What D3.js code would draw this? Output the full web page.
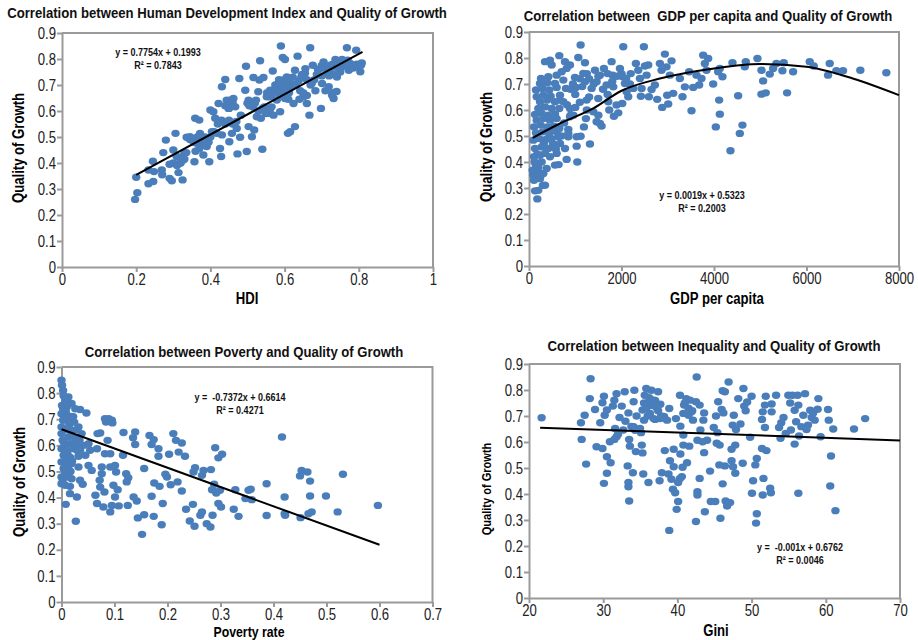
<!DOCTYPE html>
<html>
<head>
<meta charset="utf-8">
<script src="https://cdn.jsdelivr.net/npm/d3@7"></script>
<style>
  body { margin: 0; background: #fff; }
  svg { display: block; }
  .narrow { font-family: 'Liberation Sans Narrow', 'Arial Narrow', 'Liberation Sans', Arial, sans-serif; }
</style>
</head>
<body>
<svg width="918" height="640"></svg>
<script>
// ---- tick values ----
const qualityTicks = [0, 0.1, 0.2, 0.3, 0.4, 0.5, 0.6, 0.7, 0.8, 0.9];
const hdiTicks = [0, 0.2, 0.4, 0.6, 0.8, 1];
const gdpTicks = [0, 2000, 4000, 6000, 8000];
const povertyTicks = [0, 0.1, 0.2, 0.3, 0.4, 0.5, 0.6, 0.7];
const giniTicks = [20, 30, 40, 50, 60, 70];

// ---- HDI vs quality of growth ----
const hdiPoints = [
  [0.197,0.26],[0.203,0.286],[0.20,0.345],[0.233,0.32],[0.246,0.329],[0.233,0.373],[0.245,0.407],[0.248,0.367],
  [0.269,0.373],[0.27,0.355],[0.273,0.44],[0.28,0.488],[0.29,0.341],[0.296,0.332],[0.30,0.45],[0.30,0.40],
  [0.306,0.514],[0.309,0.425],[0.314,0.363],[0.318,0.40],[0.325,0.335],[0.327,0.412],[0.33,0.437],[0.336,0.499],
  [0.345,0.501],[0.357,0.405],[0.359,0.572],[0.37,0.565],[0.363,0.476],[0.372,0.514],[0.381,0.431],[0.39,0.463],
  [0.397,0.405],[0.40,0.604],[0.408,0.597],[0.404,0.52],[0.413,0.572],[0.417,0.514],[0.422,0.629],[0.426,0.456],
  [0.429,0.425],[0.431,0.693],[0.431,0.508],[0.44,0.721],[0.444,0.642],[0.449,0.61],[0.451,0.482],[0.453,0.642],
  [0.462,0.648],[0.458,0.514],[0.467,0.616],[0.471,0.533],[0.473,0.435],[0.478,0.725],[0.48,0.499],[0.482,0.584],
  [0.494,0.68],[0.496,0.772],[0.498,0.444],[0.503,0.642],[0.503,0.54],[0.512,0.501],[0.516,0.729],[0.518,0.527],
  [0.523,0.642],[0.525,0.578],[0.529,0.674],[0.532,0.719],[0.534,0.793],[0.536,0.572],[0.54,0.453],[0.543,0.729],
  [0.545,0.616],[0.552,0.655],[0.556,0.591],[0.561,0.68],[0.565,0.616],[0.568,0.754],[0.57,0.584],[0.575,0.688],
  [0.579,0.642],[0.583,0.706],[0.588,0.597],[0.59,0.85],[0.592,0.668],[0.595,0.806],[0.597,0.719],[0.601,0.798],
  [0.601,0.648],[0.606,0.731],[0.609,0.514],[0.615,0.52],[0.62,0.693],[0.624,0.629],[0.628,0.54],[0.628,0.757],
  [0.635,0.811],[0.638,0.716],[0.642,0.678],[0.647,0.741],[0.651,0.655],[0.656,0.763],[0.66,0.629],[0.667,0.584],
  [0.669,0.843],[0.673,0.706],[0.676,0.776],[0.683,0.678],[0.687,0.741],[0.696,0.763],[0.698,0.61],[0.701,0.706],
  [0.705,0.789],[0.71,0.678],[0.714,0.744],[0.719,0.693],[0.723,0.776],[0.728,0.661],[0.732,0.648],[0.737,0.798],
  [0.741,0.731],[0.746,0.757],[0.755,0.798],[0.759,0.772],[0.768,0.843],[0.773,0.757],[0.777,0.783],[0.793,0.834],
  [0.804,0.751],[0.808,0.785],[0.806,0.776],
  [0.565,0.66],[0.572,0.675],[0.578,0.69],[0.585,0.665],[0.59,0.70],[0.595,0.685],[0.60,0.71],[0.605,0.69],
  [0.61,0.72],[0.612,0.67],[0.618,0.705],[0.622,0.73],[0.63,0.70],[0.585,0.72],[0.575,0.70],[0.598,0.655],
  [0.61,0.645],[0.56,0.655],[0.553,0.67],
  [0.69,0.76],[0.70,0.775],[0.71,0.765],[0.72,0.76],[0.725,0.745],[0.73,0.78],[0.735,0.77],[0.745,0.79],
  [0.75,0.78],[0.76,0.785],[0.765,0.775],[0.77,0.795],[0.78,0.77],[0.785,0.765],[0.79,0.775],[0.795,0.78],
  [0.80,0.77],[0.735,0.74],[0.75,0.75],[0.72,0.735],[0.70,0.735],[0.74,0.675],[0.73,0.67],
  [0.345,0.49],[0.355,0.48],[0.365,0.50],[0.375,0.49],[0.38,0.47],[0.385,0.50],[0.395,0.48],[0.40,0.50],
  [0.41,0.52],[0.42,0.55],[0.43,0.565],[0.44,0.55],[0.45,0.565],[0.46,0.55],[0.47,0.56],[0.44,0.62],
  [0.45,0.61],[0.46,0.63],[0.37,0.455],[0.36,0.445],
  [0.29,0.395],[0.31,0.39],[0.32,0.40],[0.325,0.425],[0.33,0.415],[0.335,0.44],
  [0.5,0.63],[0.505,0.62],[0.515,0.615],[0.52,0.63],[0.53,0.60],[0.54,0.61],[0.55,0.59],[0.56,0.60],
  [0.64,0.645],[0.65,0.67],[0.66,0.66],[0.67,0.70],[0.68,0.72],[0.66,0.72],[0.645,0.73],[0.655,0.745]
];
const hdiTrend = [[0.2, 0.3544], [0.81, 0.8274]];

// ---- GDP per capita vs quality of growth ----
const gdpPoints = [
  [180,0.258],[130,0.289],[200,0.291],[346,0.311],[108,0.33],[238,0.336],[79,0.368],[202,0.362],
  [310,0.356],[382,0.375],[151,0.388],[274,0.40],[562,0.388],[108,0.42],[238,0.426],[346,0.433],
  [454,0.42],[598,0.433],[778,0.452],[814,0.41],[130,0.452],[274,0.458],[418,0.452],[526,0.458],
  [670,0.471],[94,0.484],[223,0.49],[367,0.487],[490,0.49],[634,0.497],[151,0.512],[295,0.516],
  [439,0.51],[598,0.516],[850,0.51],[850,0.497],[108,0.535],[252,0.542],[396,0.535],[540,0.538],
  [655,0.529],[166,0.561],[310,0.567],[454,0.561],[598,0.567],[130,0.583],[274,0.587],[418,0.58],
  [562,0.584],[202,0.606],[346,0.612],[490,0.606],[655,0.606],[238,0.632],[396,0.638],[562,0.632],
  [166,0.651],[310,0.657],[468,0.653],[670,0.657],[151,0.677],[295,0.683],[439,0.677],[598,0.687],
  [238,0.702],[396,0.705],[562,0.702],[259,0.721],[418,0.728],[598,0.734],[346,0.786],[454,0.792],
  [490,0.773],[655,0.809],[778,0.786],[706,0.747],[814,0.76],[886,0.773],[742,0.715],[799,0.683],
  [670,0.638],[742,0.632],[886,0.606],[958,0.58],[886,0.574],[850,0.525],[1030,0.461],[1044,0.40],
  [1030,0.497],[1116,0.499],[1066,0.802],[994,0.725],[1015,0.687],[1116,0.85],[1210,0.782],[1174,0.741],
  [1210,0.709],[1246,0.638],[1188,0.535],[1231,0.567],[1318,0.469],[1354,0.683],[1390,0.593],[1426,0.753],
  [1462,0.709],[1534,0.734],[1498,0.644],[1462,0.555],[1534,0.548],[1570,0.538],[1620,0.76],[1678,0.696],
  [1714,0.632],[1735,0.60],[1786,0.786],[1807,0.734],[1822,0.689],[1836,0.576],[1894,0.619],[1930,0.589],
  [1966,0.76],[2023,0.728],[2038,0.843],[2016,0.625],[2074,0.702],[2110,0.67],[2146,0.651],[2182,0.70],
  [2254,0.683],[2311,0.779],[2362,0.753],[2398,0.721],[2419,0.653],[2434,0.683],[2484,0.843],[2506,0.769],
  [2542,0.734],[2578,0.773],[2592,0.651],[2650,0.679],[2722,0.696],[2772,0.641],[2830,0.779],[2866,0.753],
  [2880,0.61],[2938,0.815],[2974,0.766],[2988,0.657],[3010,0.623],[3046,0.734],[3082,0.789],[3118,0.664],
  [3262,0.721],[3319,0.651],[3370,0.689],[3463,0.747],[3514,0.597],[3550,0.687],[3622,0.734],[3679,0.696],
  [3730,0.721],[3766,0.811],[3802,0.779],[3874,0.798],[3838,0.753],[3982,0.70],[4039,0.535],[4090,0.747],
  [4111,0.638],[4126,0.584],[4183,0.728],[4126,0.76],[4356,0.443],[4399,0.782],[4522,0.655],[4558,0.51],
  [4615,0.542],[4666,0.766],[4687,0.786],[4939,0.798],[5026,0.753],[5062,0.712],[5026,0.661],[5119,0.666],
  [5206,0.738],[5278,0.76],[5350,0.779],[5479,0.751],[5508,0.782],[5580,0.666],[5710,0.747],[6070,0.786],
  [6156,0.769],[6466,0.734],[6502,0.779],[6646,0.751],[6790,0.751],[7164,0.753],[7726,0.743],
  [90,0.35],[150,0.34],[200,0.38],[260,0.35],[300,0.31],[120,0.40],[180,0.43],[320,0.47],
  [400,0.49],[450,0.53],[520,0.47],[580,0.45],[640,0.39],[700,0.5],[760,0.55],[820,0.62],
  [900,0.68],[950,0.7],[1000,0.66],[1100,0.72],[1150,0.69],[1250,0.74],[1300,0.72],[1400,0.7],
  [1500,0.73],[1600,0.68],[1700,0.74],[1800,0.71],[1900,0.73],[2000,0.74],[2100,0.72],[2200,0.74],
  [1300,0.65],[1250,0.6],[1100,0.63],[1000,0.61],[900,0.58],[1500,0.58],[1700,0.66]
];
const gdpTrend = [
  [80,0.493],[670,0.548],[1390,0.606],[2000,0.674],[2830,0.721],[4000,0.760],
  [4990,0.777],[6000,0.766],[7000,0.721],[8000,0.657]
];

// ---- poverty rate vs quality of growth ----
const povertyPoints = [
  [0,0.849],[0.001,0.83],[0.003,0.81],[0.004,0.79],[0.007,0.772],[0.013,0.785],[0.001,0.753],[0.01,0.747],
  [0.019,0.76],[0.026,0.74],[0.035,0.737],[0.047,0.724],[0,0.721],[0.01,0.715],[0.019,0.711],[0.003,0.696],
  [0.013,0.693],[0.024,0.689],[0.032,0.67],[0,0.67],[0.01,0.664],[0.019,0.657],[0.038,0.645],[0,0.645],
  [0.013,0.632],[0.026,0.626],[0.004,0.613],[0.016,0.606],[0.029,0.60],[0.042,0.60],[0.051,0.606],[0,0.587],
  [0.01,0.581],[0.023,0.587],[0.035,0.581],[0.004,0.562],[0.016,0.555],[0.032,0.558],[0.045,0.562],[0,0.536],
  [0.01,0.543],[0.019,0.53],[0.004,0.511],[0.013,0.517],[0,0.479],[0.01,0.479],[0.019,0.472],[0,0.453],
  [0.007,0.447],[0.016,0.443],[0.016,0.415],[0.029,0.402],[0.008,0.374],[0.027,0.309],[0.032,0.517],[0.035,0.466],
  [0.04,0.451],[0.034,0.619],[0.054,0.581],[0.051,0.523],[0.057,0.504],[0.064,0.409],[0.067,0.377],[0.068,0.645],
  [0.073,0.647],[0.076,0.517],[0.072,0.466],[0.073,0.44],[0.076,0.491],[0.067,0.587],[0.079,0.364],[0.081,0.421],
  [0.082,0.702],[0.084,0.689],[0.089,0.702],[0.095,0.696],[0.096,0.686],[0.087,0.619],[0.082,0.568],[0.092,0.568],
  [0.092,0.517],[0.092,0.345],[0.098,0.447],[0.101,0.402],[0.101,0.523],[0.103,0.498],[0.106,0.43],[0.095,0.37],
  [0.108,0.368],[0.117,0.649],[0.116,0.562],[0.122,0.491],[0.123,0.46],[0.125,0.37],[0.126,0.476],[0.135,0.629],
  [0.139,0.651],[0.139,0.603],[0.136,0.402],[0.142,0.387],[0.144,0.322],[0.152,0.259],[0.156,0.511],[0.156,0.334],
  [0.166,0.638],[0.17,0.603],[0.174,0.622],[0.174,0.328],[0.17,0.405],[0.175,0.456],[0.183,0.587],[0.183,0.558],
  [0.185,0.443],[0.189,0.296],[0.191,0.377],[0.196,0.489],[0.199,0.479],[0.203,0.566],[0.206,0.449],[0.211,0.645],
  [0.216,0.619],[0.219,0.46],[0.221,0.574],[0.227,0.609],[0.227,0.425],[0.233,0.558],[0.235,0.355],[0.242,0.31],
  [0.248,0.374],[0.249,0.498],[0.252,0.514],[0.251,0.29],[0.262,0.332],[0.265,0.345],[0.265,0.485],[0.268,0.504],
  [0.274,0.30],[0.281,0.287],[0.282,0.507],[0.285,0.332],[0.284,0.43],[0.288,0.451],[0.29,0.591],[0.292,0.417],
  [0.296,0.377],[0.296,0.552],[0.299,0.428],[0.303,0.566],[0.301,0.364],[0.325,0.355],[0.328,0.43],[0.334,0.328],
  [0.347,0.396],[0.353,0.428],[0.357,0.432],[0.359,0.392],[0.387,0.453],[0.387,0.331],[0.416,0.632],[0.421,0.402],
  [0.421,0.338],[0.422,0.332],[0.45,0.483],[0.453,0.504],[0.464,0.498],[0.469,0.463],[0.469,0.406],[0.466,0.338],
  [0.472,0.345],[0.451,0.323],[0.499,0.406],[0.521,0.345],[0.531,0.489],[0.597,0.37],
  [0.005,0.70],[0.008,0.73],[0.012,0.76],[0.003,0.74],[0.015,0.68],[0.006,0.66],[0.018,0.64],[0.004,0.59],
  [0.011,0.57],[0.02,0.54],[0.007,0.50],[0.013,0.49],[0.002,0.46],[0.022,0.71],[0.028,0.66],[0.03,0.58],
  [0.025,0.61],[0.002,0.62],[0.009,0.52],[0.017,0.50]
];
const povertyTrend = [[0, 0.6614], [0.6, 0.2191]];

// ---- Gini vs quality of growth ----
const giniPoints = [
  [21.7,0.693],[27.0,0.674],[27.1,0.61],[27.7,0.515],[27.5,0.703],[28.3,0.843],[28.2,0.767],[28.9,0.725],
  [29.1,0.582],[29.6,0.674],[29.9,0.575],[30.1,0.776],[30.1,0.441],[29.9,0.751],[30.5,0.723],[30.2,0.703],
  [30.5,0.543],[30.5,0.48],[31.0,0.52],[30.9,0.601],[31.3,0.738],[31.5,0.761],[31.8,0.786],[31.6,0.652],
  [31.8,0.62],[32.2,0.694],[32.5,0.738],[32.7,0.646],[32.9,0.793],[33.4,0.712],[33.3,0.508],[33.4,0.444],
  [33.4,0.428],[33.5,0.373],[33.5,0.61],[33.6,0.584],[34.0,0.482],[34.1,0.755],[34.2,0.799],[34.1,0.659],
  [34.4,0.563],[34.96,0.652],[35.2,0.588],[35.1,0.636],[35.3,0.558],[35.4,0.477],[35.3,0.723],[35.5,0.684],
  [35.8,0.806],[35.9,0.748],[36.1,0.444],[36.3,0.71],[36.5,0.799],[36.8,0.761],[37.0,0.687],[37.2,0.732],
  [37.4,0.793],[37.6,0.451],[37.7,0.745],[37.7,0.69],[37.9,0.482],[38.2,0.698],[38.3,0.567],[38.6,0.684],
  [38.8,0.477],[38.9,0.729],[39.0,0.528],[38.9,0.26],[39.2,0.457],[39.4,0.418],[39.5,0.572],[39.5,0.505],
  [39.7,0.405],[39.8,0.69],[39.9,0.341],[40.1,0.371],[40.1,0.444],[40.35,0.46],[40.35,0.78],[40.4,0.554],
  [40.4,0.661],[40.6,0.467],[40.7,0.503],[40.8,0.627],[40.8,0.588],[40.9,0.742],[41.2,0.767],[41.3,0.52],
  [41.5,0.703],[41.6,0.584],[41.7,0.761],[41.9,0.716],[42.1,0.684],[42.5,0.294],[42.6,0.85],[42.7,0.409],
  [42.7,0.396],[42.5,0.755],[42.7,0.607],[43.0,0.46],[43.0,0.742],[43.1,0.646],[43.4,0.601],[43.5,0.684],
  [43.6,0.712],[43.6,0.559],[43.7,0.332],[44.0,0.607],[44.4,0.488],[44.5,0.371],[44.9,0.656],[45.1,0.371],
  [45.2,0.70],[45.3,0.595],[45.4,0.636],[45.5,0.755],[45.65,0.512],[45.7,0.588],[45.8,0.307],[45.96,0.725],
  [46.1,0.439],[46.1,0.797],[46.4,0.793],[46.2,0.712],[46.4,0.508],[46.5,0.373],[46.7,0.354],[46.9,0.831],
  [47.1,0.367],[47.3,0.572],[47.3,0.528],[47.45,0.665],[47.5,0.505],[47.6,0.703],[47.8,0.48],[47.8,0.588],
  [47.9,0.648],[48.2,0.767],[48.5,0.669],[48.8,0.518],[48.9,0.806],[49.0,0.738],[49.2,0.72],[49.4,0.754],
  [49.8,0.618],[50.0,0.776],[50.05,0.403],[50.2,0.451],[50.5,0.512],[50.7,0.537],[50.6,0.288],[50.7,0.324],
  [51.4,0.687],[51.5,0.716],[51.5,0.396],[51.6,0.46],[51.4,0.575],[51.8,0.656],[51.8,0.742],[51.9,0.776],
  [52.0,0.567],[52.5,0.422],[52.6,0.405],[52.7,0.746],[52.7,0.716],[53.3,0.78],[53.7,0.656],[53.9,0.614],
  [54.0,0.674],[54.3,0.694],[54.6,0.633],[54.95,0.78],[55.2,0.75],[55.3,0.646],[55.5,0.78],[55.8,0.722],
  [56.0,0.678],[55.8,0.592],[56.2,0.78],[56.3,0.742],[56.3,0.403],[56.4,0.623],[56.7,0.659],[57.2,0.786],
  [56.97,0.703],[57.4,0.648],[57.6,0.665],[57.9,0.722],[58.1,0.694],[58.3,0.712],[58.5,0.684],[58.9,0.726],
  [59.0,0.767],[59.3,0.62],[60.3,0.725],[60.4,0.684],[60.6,0.431],[60.7,0.546],[61.0,0.65],[61.3,0.336],
  [63.8,0.65],[65.3,0.69],
  [35.5,0.75],[35.8,0.73],[36.2,0.77],[36.6,0.74],[37.0,0.76],[37.4,0.72],[36.0,0.70],[36.8,0.69],
  [35.6,0.78],[37.8,0.70],[34.5,0.70],[33.8,0.66],[34.3,0.645],[33.0,0.68],[32.0,0.63],[31.5,0.61],
  [41.0,0.75],[41.5,0.73],[40.8,0.71],[42.0,0.72]
];
const giniTrend = [[21.5, 0.6547], [70, 0.6062]];

// ---- panels ----
const panels = [
  { title: 'Correlation between Human Development Index and Quality of Growth', titleX: 227, titleY: 18, titleW: 440,
    xLabel: 'HDI', xLabelX: 247, xLabelY: 304, xLabelSize: 16, yLabel: 'Quality of Growth', yLabelX: 24, yLabelY: 148, yLabelSize: 16,
    left: 62, right: 433, top: 33, bottom: 267, xDomain: [0, 1], xTicks: hdiTicks,
    points: hdiPoints, trend: hdiTrend, curved: false,
    eq: ['y = 0.7754x + 0.1993', 'R\u00b2 = 0.7843'], eqX: 158, eqY: 56 },
  { title: 'Correlation between  GDP per capita and Quality of Growth', titleX: 708, titleY: 21, titleW: 369,
    xLabel: 'GDP per capita', xLabelX: 717, xLabelY: 304, xLabelSize: 16, yLabel: 'Quality of Growth', yLabelX: 492, yLabelY: 147, yLabelSize: 16,
    left: 529, right: 899, top: 32, bottom: 266, xDomain: [0, 8000], xTicks: gdpTicks,
    points: gdpPoints, trend: gdpTrend, curved: true,
    eq: ['y = 0.0019x + 0.5323', 'R\u00b2 = 0.2003'], eqX: 702, eqY: 199 },
  { title: 'Correlation between Poverty and Quality of Growth', titleX: 244, titleY: 357, titleW: 319,
    xLabel: 'Poverty rate', xLabelX: 249, xLabelY: 636.5, xLabelSize: 15, yLabel: 'Quality of Growth', yLabelX: 25, yLabelY: 482, yLabelSize: 16,
    left: 61.5, right: 432.5, top: 367, bottom: 602, xDomain: [0, 0.7], xTicks: povertyTicks,
    points: povertyPoints, trend: povertyTrend, curved: false,
    eq: ['y =  -0.7372x + 0.6614', 'R\u00b2 = 0.4271'], eqX: 240, eqY: 401 },
  { title: 'Correlation between Inequality and Quality of Growth', titleX: 714, titleY: 351, titleW: 333,
    xLabel: 'Gini', xLabelX: 716, xLabelY: 636, xLabelSize: 16, yLabel: 'Quality of Growth', yLabelX: 491, yLabelY: 489, yLabelSize: 13.5,
    left: 529, right: 900, top: 364, bottom: 598, xDomain: [20, 70], xTicks: giniTicks,
    points: giniPoints, trend: giniTrend, curved: false,
    eq: ['y =  -0.001x + 0.6762', 'R\u00b2 = 0.0046'], eqX: 800, eqY: 551 }
];

const axisGrey = '#9a9a9a';
const dotBlue = '#4a7ebb';
const squeeze = 0.82;   // no narrow font installed, so compress the glyphs sideways

function condense(sel, width) {
  sel.each(function() {
    const t = d3.select(this);
    const s = width ? width / this.getComputedTextLength() : squeeze;
    const tx = +t.attr('x') || 0, ty = +t.attr('y') || 0;
    const before = t.attr('transform') || '';
    t.attr('x', 0).attr('y', 0)
      .attr('transform', before + ' translate(' + tx + ',' + ty + ') scale(' + s + ',1)');
  });
}

function drawPanel(svg, p) {
  const x = d3.scaleLinear().domain(p.xDomain).range([p.left, p.right]);
  const y = d3.scaleLinear().domain([0, 0.9]).range([p.bottom, p.top]);
  const g = svg.append('g').attr('class', 'narrow');

  // frame (top + right)
  g.append('path')
    .attr('d', `M${p.left},${p.top}H${p.right}V${p.bottom}`)
    .attr('fill', 'none').attr('stroke', axisGrey).attr('stroke-width', 2);

  const xAxis = g.append('g')
    .attr('transform', 'translate(0,' + p.bottom + ')')
    .call(d3.axisBottom(x).tickValues(p.xTicks).tickSize(5).tickSizeOuter(0).tickFormat(d => String(d)));
  const yAxis = g.append('g')
    .attr('transform', 'translate(' + p.left + ',0)')
    .call(d3.axisLeft(y).tickValues(qualityTicks).tickSize(5).tickSizeOuter(0).tickFormat(d => String(d)));

  [xAxis, yAxis].forEach(a => {
    a.attr('font-family', null).attr('font-size', null);
    a.select('.domain').attr('stroke', axisGrey).attr('stroke-width', 2);
    a.selectAll('.tick line').attr('stroke', axisGrey).attr('stroke-width', 2);
    a.selectAll('.tick text').attr('fill', '#222').style('font-size', '16px');
  });
  xAxis.selectAll('.tick text').attr('dy', '0.85em').attr('y', 4);
  yAxis.selectAll('.tick text').attr('x', -6);
  condense(xAxis.selectAll('.tick text'));
  condense(yAxis.selectAll('.tick text'));

  // dots
  g.append('g').selectAll('ellipse')
    .data(p.points)
    .enter().append('ellipse')
    .attr('cx', d => x(d[0]))
    .attr('cy', d => y(d[1]))
    .attr('rx', 4.2).attr('ry', 3.7)
    .attr('fill', dotBlue);

  // trend line
  const line = d3.line()
    .x(d => x(d[0]))
    .y(d => y(d[1]));
  if (p.curved) line.curve(d3.curveMonotoneX);
  g.append('path')
    .datum(p.trend)
    .attr('d', line)
    .attr('fill', 'none')
    .attr('stroke', '#000')
    .attr('stroke-width', 2);

  // equation
  const eq = g.selectAll('.eq')
    .data(p.eq)
    .enter().append('text')
    .attr('x', p.eqX)
    .attr('y', (d, i) => p.eqY + i * 13)
    .attr('text-anchor', 'middle')
    .style('font-size', '11px')
    .style('font-weight', 'bold')
    .style('white-space', 'pre')
    .attr('fill', '#111')
    .text(d => d);
  condense(eq);

  // title
  const title = g.append('text')
    .attr('x', p.titleX).attr('y', p.titleY)
    .attr('text-anchor', 'middle')
    .style('font-size', '15px').style('font-weight', 'bold')
    .style('white-space', 'pre')
    .attr('fill', '#111')
    .text(p.title);
  condense(title, p.titleW);

  // x label
  const xl = g.append('text')
    .attr('x', p.xLabelX).attr('y', p.xLabelY)
    .attr('text-anchor', 'middle')
    .style('font-size', p.xLabelSize + 'px').style('font-weight', 'bold')
    .attr('fill', '#000')
    .text(p.xLabel);
  condense(xl);

  // y label
  const yl = g.append('text')
    .attr('transform', 'translate(' + p.yLabelX + ',' + p.yLabelY + ')rotate(-90)')
    .attr('text-anchor', 'middle')
    .style('font-size', p.yLabelSize + 'px').style('font-weight', 'bold')
    .attr('fill', '#000')
    .text(p.yLabel);
  condense(yl);
}

const svg = d3.select('svg');
panels.forEach(p => drawPanel(svg, p));
</script>
</body>
</html>
